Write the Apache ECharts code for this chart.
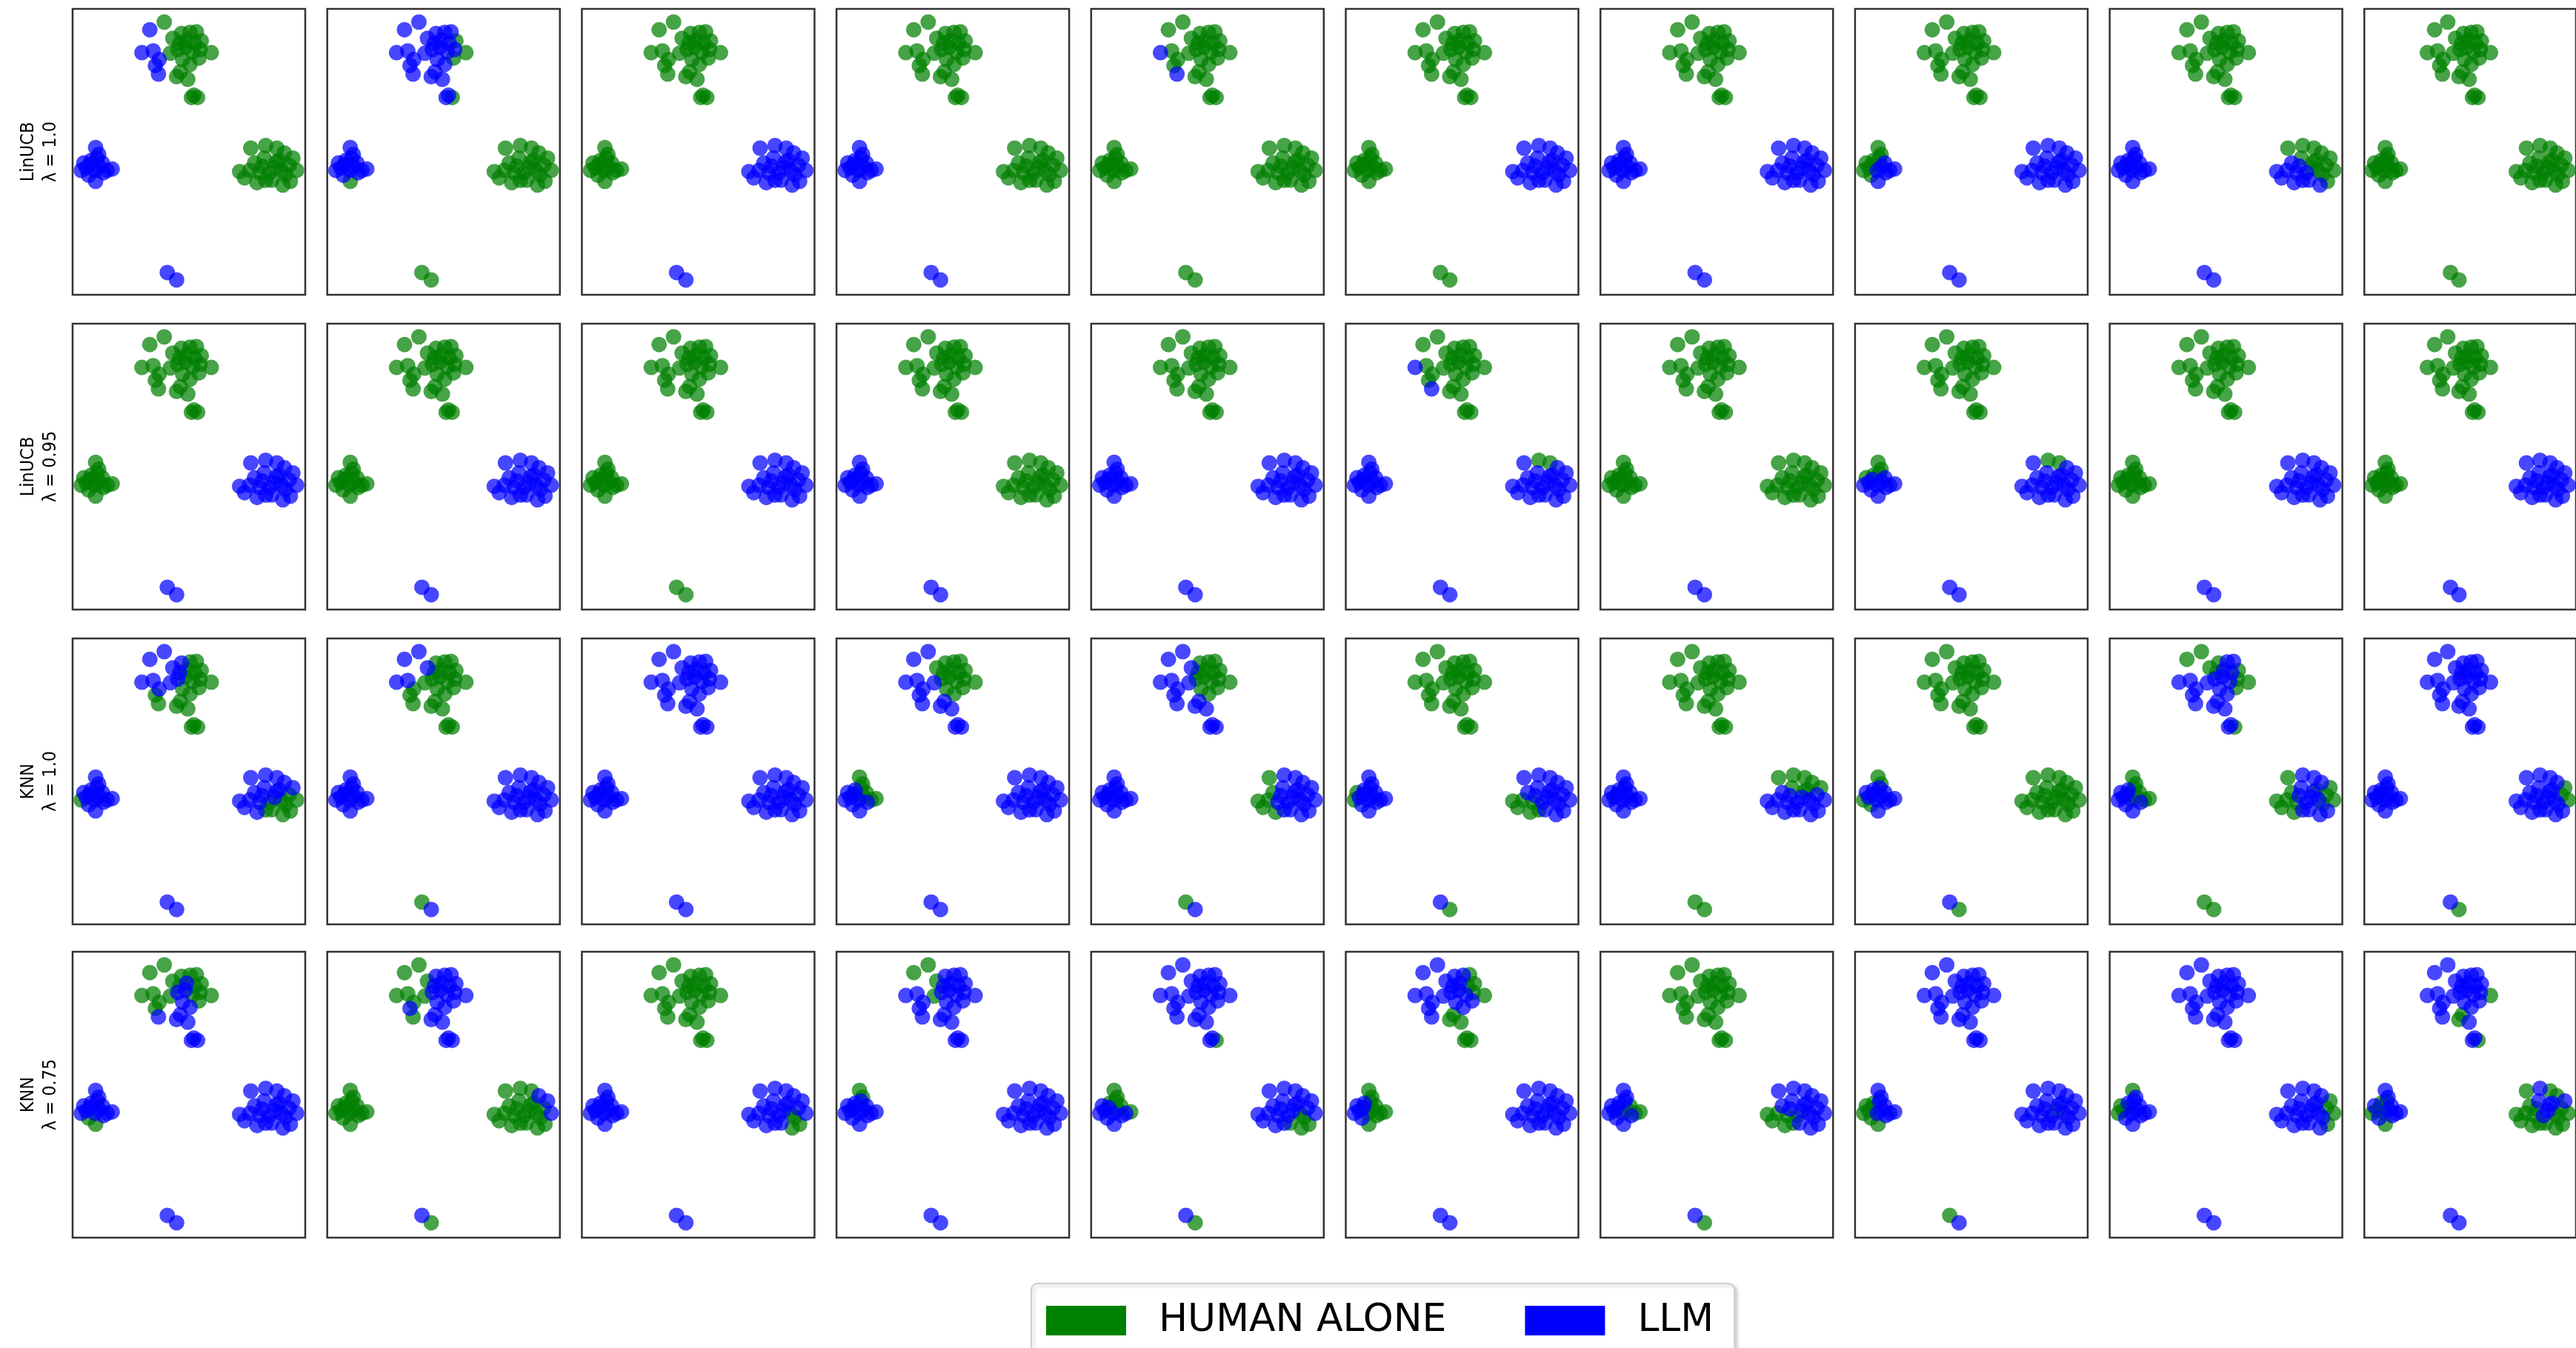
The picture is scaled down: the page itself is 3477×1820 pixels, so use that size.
<!DOCTYPE html>
<html>
<head>
<meta charset="utf-8">
<title>Human alone vs LLM</title>
<script src="https://cdn.jsdelivr.net/npm/echarts@6/dist/echarts.min.js"></script>
<style>
    html, body { margin: 0; padding: 0; background: #fff; }
    #chart { width: 3477px; height: 1820px; }
</style>
</head>
<body>
<div id="chart"></div>
<script>
'use strict';

var rowLabels = ['LinUCB\nλ = 1.0', 'LinUCB\nλ = 0.95', 'KNN\nλ = 1.0', 'KNN\nλ = 0.75'];
var seriesNames = ['HUMAN ALONE', 'LLM'];

// 2-d embedding of the queries (same in every panel)
// top cluster, groups: t1 | t2 | t3 x2 | t4 x3 | t5 x4 | t6 x4 | t7 x6 | t8 x3 | t9 x3 | core x3
var topCluster = [
    [39.4, 95.4],
    [33.2, 92.7],
    [29.8, 84.7], [34.6, 85.3],
    [37.2, 82.3], [35.6, 80.2], [36.9, 77.2],
    [43.1, 89.7], [46.8, 91.4], [50.5, 91.8], [53.2, 92.0],
    [55.3, 88.8], [59.6, 84.7], [54.8, 85.8], [54.3, 82.8],
    [42.0, 84.5], [45.2, 85.8], [48.4, 86.6], [51.6, 84.9], [47.3, 82.3], [50.5, 80.6],
    [44.7, 76.3], [46.3, 78.0], [49.5, 75.4],
    [52.1, 69.8], [53.7, 69.0], [51.1, 69.0],
    [49.0, 89.0], [52.5, 88.0], [46.0, 88.0]
];
// left cluster, groups: up x2 | left x4 | centre x2 | right x4 | low x1 | core x3
var leftCluster = [
    [9.9, 51.5], [11.2, 49.1],
    [4.8, 46.1], [3.7, 43.5], [5.9, 44.4], [6.9, 41.8],
    [8.0, 47.0], [9.6, 43.5],
    [12.8, 46.1], [17.0, 44.0], [14.9, 43.5], [13.3, 42.7],
    [9.9, 39.7],
    [7.5, 45.5], [11.5, 44.8], [10.5, 47.8]
];
// right cluster, groups: top x3 | upper left x2 | upper right x3 | middle x3 | lower left x5 | lower right x5 | core x4
var rightCluster = [
    [76.6, 51.3], [83.0, 52.2], [87.8, 51.3],
    [78.2, 46.1], [82.4, 47.8],
    [91.0, 49.6], [94.7, 47.8], [88.8, 47.0],
    [86.7, 44.4], [84.6, 42.7], [85.6, 40.1],
    [71.8, 43.1], [73.9, 40.9], [76.1, 43.5], [79.3, 39.2], [80.3, 42.7],
    [96.3, 43.5], [93.1, 45.3], [89.9, 43.5], [93.6, 39.7], [90.4, 38.4],
    [81.5, 45.0], [87.5, 46.5], [91.5, 42.0], [83.0, 40.0]
];
var bottomCluster = [[40.7, 7.8], [44.7, 5.2]];

// who answered each query: G = human alone, B = LLM
// per panel [top, left, right, bottom]; one letter = whole cluster
var linucb10 = [
    ['G B BB BBB GGGG GGGG GGGGGG GGG GGG GGG', 'B', 'G', 'B'],
    ['B B BB BBB BBBB GGBG BBBBBB BBB BGB BBB', 'BB BBBB BB BBBB G BBB', 'G', 'G'],
    ['G', 'G', 'B', 'B'],
    ['G', 'B', 'G', 'B'],
    ['G G BG GGB GGGG GGGG GGGGGG GGG GGG GGG', 'G', 'G', 'G'],
    ['G', 'G', 'B', 'G'],
    ['G', 'B', 'B', 'B'],
    ['G', 'GG GGGG GB BBBB B GBG', 'B', 'B'],
    ['G', 'B', 'GGG BG GGG GBB BBBBB GGGGB BGGB', 'B'],
    ['G', 'G', 'G', 'G']
];
var linucb095 = [
    ['G', 'G', 'B', 'B'],
    ['G', 'G', 'B', 'B'],
    ['G', 'G', 'B', 'G'],
    ['G', 'B', 'G', 'B'],
    ['G', 'B', 'B', 'B'],
    ['G G BG GGB GGGG GGGG GGGGGG GGG GGG GGG', 'B', 'BGG BB BBB BBB BBBBB BBBBB BBBB', 'B'],
    ['G', 'G', 'G', 'B'],
    ['G', 'GG GBBB GB BBBB B BBG', 'BGG BB BBB BBB BBBBB BBBBB BBBB', 'B'],
    ['G', 'G', 'B', 'B'],
    ['G', 'G', 'B', 'B']
];
var knn10 = [
    ['B B BB BGG BBGG GGGG BBGGGG GGG GGG GGB', 'BB BGBB BB BBBB B BBB', 'BBB BB BBB BGG BBBBB GGGGG BBGG', 'B'],
    ['B B BB GGG BGGG GGGG GGGGGG GGG GGG GGG', 'B', 'B', 'GB'],
    ['B', 'B', 'B', 'B'],
    ['B B BB BBB GGGG GGGG BGGGGG BBB BBB GGG', 'GG BBBB BB GGGB B BGG', 'B', 'B'],
    ['B B BB BBB BGGG GGGG BGGGGG BBB BBB GGG', 'B', 'GBB GB BBB BBB GGGGB BBBBB BBBB', 'GB'],
    ['G', 'BB GGBB BB BBBB B BBB', 'BBB BB BBB BBB GGGGG BBBBB BBBG', 'BG'],
    ['G', 'B', 'GGG BG GGG BBB BBBBB BBBBB BGBB', 'G'],
    ['G', 'GG BGBG BB BBBB B BBB', 'G', 'BG'],
    ['G G BB BBB GGBB GGGG BBBBBB BBB BGB BBG', 'GG BBBB BG GGGB B BGG', 'GBB GB BGG BBB GGGGG GGBBB BBGB', 'G'],
    ['B', 'B', 'BBB BB BGB BBB BBBBB GGBBB BBBB', 'BG']
];
var knn075 = [
    ['G G GG GGB GGGG GGGG GBBGBB BBB BBB BGG', 'BB BBBG BB BBBB G BBB', 'B', 'B'],
    ['G G GG GBG GBBB BBBB GBBBBB BBB BBB BBB', 'G', 'GGG GG BBG GGG GGGGG BGGGG GGGG', 'BG'],
    ['G', 'B', 'BBB BB BBB BBB BBBBB BBGGG BBGB', 'B'],
    ['G G BB BBB GBBB BBBB GBBBBB BBB BBB BBB', 'GG BBBB BB BBBB B BBB', 'B', 'B'],
    ['B B BB BBB BBBB BBBB BBBBBB BBB BGB BBB', 'GG BBBB GB GGBB B BGG', 'BBB BB BBB BBG BBBBB BBGGG BBGB', 'BG'],
    ['B B BB BBB BBBG GGGB BBBBBB GGG GGG BGB', 'GG BBBB BG GGGG G BGG', 'B', 'B'],
    ['G', 'BB BBBB BG GGGB B BGB', 'BBB BB BBB BGB GGGGG BBBBB BBBG', 'BG'],
    ['B', 'BB GGGG GB BBBB G GBB', 'BBB BB BBB GBB BBBBB BBBBB BBBB', 'GB'],
    ['B', 'GB GGGB BB BBBB B GBB', 'BBB BB BGB BBB BBBBB GGBGB BBBB', 'B'],
    ['B B BB BBB BBBB BGBB BBBBBB GGB BGB BBB', 'BB BGGB GG BBBB G GBG', 'GBG GB GBB BBG GGGGG GGGGG GBGG', 'B']
];
var panelRows = [linucb10, linucb095, knn10, knn075];

var colors = {G: '#008000', B: '#0000ff'};

var clusters = [topCluster, leftCluster, rightCluster, bottomCluster];

// panel layout (pixels)
var panelLeft = 98, panelStep = 343.7, panelWidth = 314, panelHeight = 386;
var panelTops = [12, 437, 862, 1285];

var expandCode = function (code, n) {
    code = code.replace(/\s/g, '');
    if (code.length === 1) {
        return new Array(n).fill(code);
    }
    if (code.length !== n) {
        console.log('bad code length ' + code.length + ' vs ' + n + ': ' + code);
    }
    return code.split('');
};

var grids = [], xAxes = [], yAxes = [], series = [];

panelRows.forEach(function (panels, r) {
    panels.forEach(function (codes, c) {
        var idx = grids.length;
        grids.push({
            left: panelLeft + panelStep * c,
            top: panelTops[r],
            width: panelWidth,
            height: panelHeight,
            show: true,
            borderColor: '#333',
            borderWidth: 2.5,
            backgroundColor: '#fff'
        });
        xAxes.push({
            type: 'value', gridIndex: idx, min: 0, max: 100,
            axisLine: {show: false}, axisTick: {show: false},
            axisLabel: {show: false}, splitLine: {show: false}
        });
        var yAxis = {
            type: 'value', gridIndex: idx, min: 0, max: 100,
            axisLine: {show: false}, axisTick: {show: false},
            axisLabel: {show: false}, splitLine: {show: false}
        };
        if (c === 0) {
            yAxis.name = rowLabels[r];
            yAxis.nameLocation = 'middle';
            yAxis.nameRotate = 90;
            yAxis.nameGap = 15;
            yAxis.nameTextStyle = {
                fontFamily: 'DejaVu Sans Condensed, DejaVu Sans',
                fontSize: 25,
                lineHeight: 30,
                color: '#000',
                align: 'center'
            };
        }
        yAxes.push(yAxis);

        // split every cluster's points by the code letters
        var green = [], blue = [];
        clusters.forEach(function (points, k) {
            var labels = expandCode(codes[k], points.length);
            points.forEach(function (p, i) {
                if (labels[i] === 'B') {
                    blue.push(p);
                } else {
                    green.push(p);
                }
            });
        });

        [[seriesNames[0], green, colors.G], [seriesNames[1], blue, colors.B]].forEach(function (s) {
            series.push({
                name: s[0],
                type: 'scatter',
                xAxisIndex: idx,
                yAxisIndex: idx,
                data: s[1],
                symbol: 'circle',
                symbolSize: 21,
                itemStyle: {color: s[2], opacity: 0.72},
                emphasis: {disabled: true},
                silent: true
            });
        });
    });
});

var myChart = echarts.init(document.getElementById('chart'));

var option = {
    animation: false,
    backgroundColor: '#fff',
    grid: grids,
    xAxis: xAxes,
    yAxis: yAxes,
    legend: {
        left: 1392,
        top: 1733,
        data: [
            {name: seriesNames[0], itemStyle: {color: colors.G, opacity: 1}},
            {name: seriesNames[1], itemStyle: {color: colors.B, opacity: 1}}
        ],
        icon: 'rect',
        itemWidth: 108,
        itemHeight: 40,
        itemGap: 106,
        padding: [24, 28, 24, 20],
        backgroundColor: '#fff',
        borderColor: '#cfcfcf',
        borderWidth: 2,
        borderRadius: 8,
        shadowColor: 'rgba(0,0,0,0.18)',
        shadowBlur: 4,
        shadowOffsetX: 3,
        shadowOffsetY: 3,
        selectedMode: false,
        textStyle: {
            fontFamily: 'DejaVu Sans',
            fontSize: 52,
            color: '#000',
            padding: [0, 0, 0, 39]
        }
    },
    series: series
};

myChart.setOption(option);
</script>
</body>
</html>
